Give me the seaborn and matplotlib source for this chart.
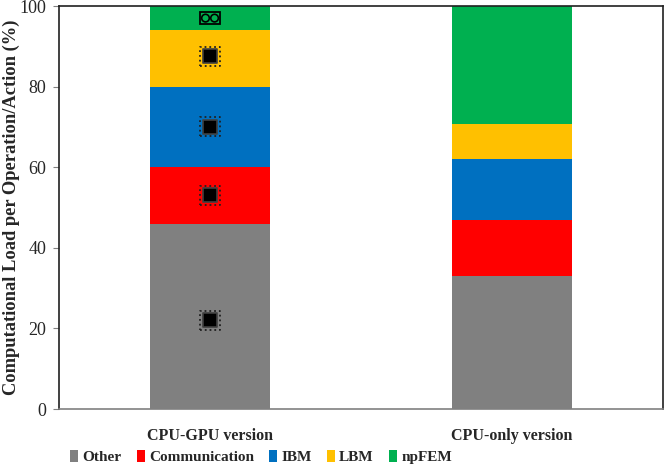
import numpy as np
import pandas as pd
import seaborn as sns
import matplotlib.pyplot as plt
from matplotlib.patches import Patch

versions = ["CPU-GPU version", "CPU-only version"]
components = ["Other", "Communication", "IBM", "LBM", "npFEM"]
other = [46, 33]
communication = [14, 14]
ibm = [20, 15]
lbm = [14, 8.7]
npfem = [6, 29.3]
colori = ["#808080", "#FF0000", "#0070C0", "#FFC000", "#00B050"]

# icone (chip / gpu) sul primo bar
icon_chip_y = [22, 53, 70, 87.5]
icon_gpu_y = [97]

valori = np.array([other, communication, ibm, lbm, npfem])
cumulato = valori.cumsum(axis=0)

sns.set_style("white")
plt.rcParams['font.family'] = ['Liberation Serif', 'DejaVu Serif']

fig = plt.figure(figsize=(6.64, 4.66), dpi=100)
ax = fig.add_axes([0.0889, 0.1223, 0.9096, 0.8648])

# barre sovrapposte: dal totale piu' alto al piu' basso
for i in range(len(components) - 1, -1, -1):
    df = pd.DataFrame({'Versione': versions, 'Valore': cumulato[i]})
    sns.barplot(data=df, x='Versione', y='Valore', color=colori[i],
                width=0.4, saturation=1, ax=ax, linewidth=0)

# icone
ax.scatter([0] * len(icon_chip_y), icon_chip_y, marker='s', s=190, facecolor='none',
           edgecolor='#202020', linewidth=1.3, linestyle=':', zorder=5)
ax.scatter([0] * len(icon_chip_y), icon_chip_y, marker='s', s=105, facecolor='black',
           edgecolor='#404040', linewidth=1.2, zorder=6)
ax.add_patch(plt.Rectangle((-0.033, icon_gpu_y[0] - 1.4), 0.066, 2.8, facecolor='none',
                           edgecolor='black', linewidth=1.3, zorder=6))
ax.scatter([-0.015, 0.015], [icon_gpu_y[0]] * 2, marker='o', s=30, facecolor='none',
           edgecolor='black', linewidth=1.2, zorder=7)

ax.set_ylim(0, 100)
ax.set_xlim(-0.5, 1.5)
ax.set_yticks([0, 20, 40, 60, 80, 100])
ax.tick_params(axis='y', which='major', direction='out', length=4, width=0.8,
               left=True, labelsize=13, color='#808080', pad=5)
ax.tick_params(axis='x', length=0, labelsize=11.5, pad=14)
for lab in ax.get_xticklabels():
    lab.set_fontweight('bold')
ax.set_xlabel("")
ax.set_ylabel("Computational Load per Operation/Action (%)", fontsize=13.3,
              fontweight='bold', labelpad=0)

for s in ['left', 'top', 'right']:
    ax.spines[s].set_color('#202020')
    ax.spines[s].set_linewidth(1.2)
    ax.spines[s].set_visible(True)
ax.spines['bottom'].set_color('#808080')
ax.spines['bottom'].set_linewidth(1.2)
ax.spines['bottom'].set_visible(True)

handles = [Patch(facecolor=c, edgecolor='none') for c in colori]
fig.legend(handles, components, loc='lower center', bbox_to_anchor=(0.393, -0.016),
           ncol=5, frameon=False, handlelength=0.55, handleheight=0.75,
           handletextpad=0.25, columnspacing=1.0, borderaxespad=0.2,
           prop={'weight': 'bold', 'size': 11, 'family': 'Liberation Serif'})

fig.savefig('out.png', dpi=100)
plt.close()
